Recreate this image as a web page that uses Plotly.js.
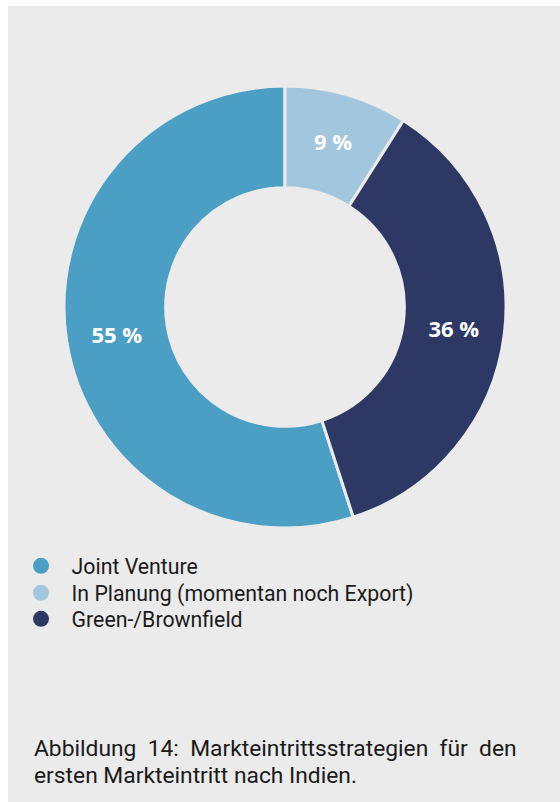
<!DOCTYPE html>
<html>
<head>
<meta charset="utf-8">
<script src="https://cdn.plot.ly/plotly-3.0.1.min.js"></script>
<style>
  html, body { margin: 0; padding: 0; background: #ffffff; }
  #chart { width: 560px; height: 802px; }
</style>
</head>
<body>
<div id="chart"></div>
<script>
// ---- data ----
const categories = ["Joint Venture", "In Planung (momentan noch Export)", "Green-/Brownfield"];
const shares = [55, 9, 36];
const colors = ["#4b9fc4", "#a1c6dd", "#2d3964"];
const captionLine1 = "Abbildung\u00a0\u00a014:\u00a0\u00a0Markteintrittsstrategien\u00a0\u00a0für\u00a0\u00a0den";
const captionLine2 = "ersten Markteintritt nach Indien.";

const W = 560, H = 802;
const bg = "#ebebeb";

const pie = {
  type: "pie",
  labels: categories,
  values: shares,
  sort: false,
  direction: "clockwise",
  rotation: 162,
  hole: 0.54,
  marker: { colors: colors, line: { color: bg, width: 3 } },
  texttemplate: "%{value} %",
  textposition: "inside",
  insidetextorientation: "horizontal",
  textfont: { family: "Open Sans", size: 22, color: "#ffffff", weight: "bold" },
  domain: { x: [64 / W, 506 / W], y: [(H - 528) / H, (H - 86) / H] },
  showlegend: false,
  hoverinfo: "none"
};

const legendIds = ["legend", "legend2", "legend3"];
const legendTraces = categories.map((c, i) => ({
  type: "scatter",
  mode: "markers",
  x: [null], y: [null],
  name: "\u00a0\u00a0" + c,
  legend: legendIds[i],
  marker: { color: colors[i], size: 18, symbol: "circle" },
  showlegend: true,
  hoverinfo: "none"
}));

const rowCenters = [566, 593, 619];
const layout = {
  width: W, height: H,
  margin: { l: 0, r: 0, t: 0, b: 0 },
  paper_bgcolor: "#ffffff",
  plot_bgcolor: "rgba(0,0,0,0)",
  xaxis: { visible: false, domain: [0, 0.01] },
  yaxis: { visible: false, domain: [0, 0.01] },
  shapes: [{
    type: "rect", xref: "paper", yref: "paper", layer: "below",
    x0: 8 / W, x1: 1, y0: 0, y1: (H - 6) / H,
    fillcolor: bg, line: { width: 0 }
  }],
  annotations: [
    { xref: "paper", yref: "paper", x: 32 / W, y: (H - 748) / H, xanchor: "left", yanchor: "middle",
      text: captionLine1, showarrow: false,
      font: { family: "Roboto", size: 22.8, color: "#1a1a1a" } },
    { xref: "paper", yref: "paper", x: 32 / W, y: (H - 775) / H, xanchor: "left", yanchor: "middle",
      text: captionLine2, showarrow: false,
      font: { family: "Roboto", size: 22.8, color: "#1a1a1a" } }
  ]
};
legendIds.forEach((id, i) => {
  layout[id] = {
    x: 21 / W, y: (H - rowCenters[i]) / H, xanchor: "left", yanchor: "middle",
    bgcolor: "rgba(0,0,0,0)",
    font: { family: "Roboto", size: 21.3, color: "#1a1a1a" },
    itemclick: false, itemdoubleclick: false
  };
});

Plotly.newPlot("chart", [pie].concat(legendTraces), layout, { displayModeBar: false, staticPlot: true });
</script>
</body>
</html>
